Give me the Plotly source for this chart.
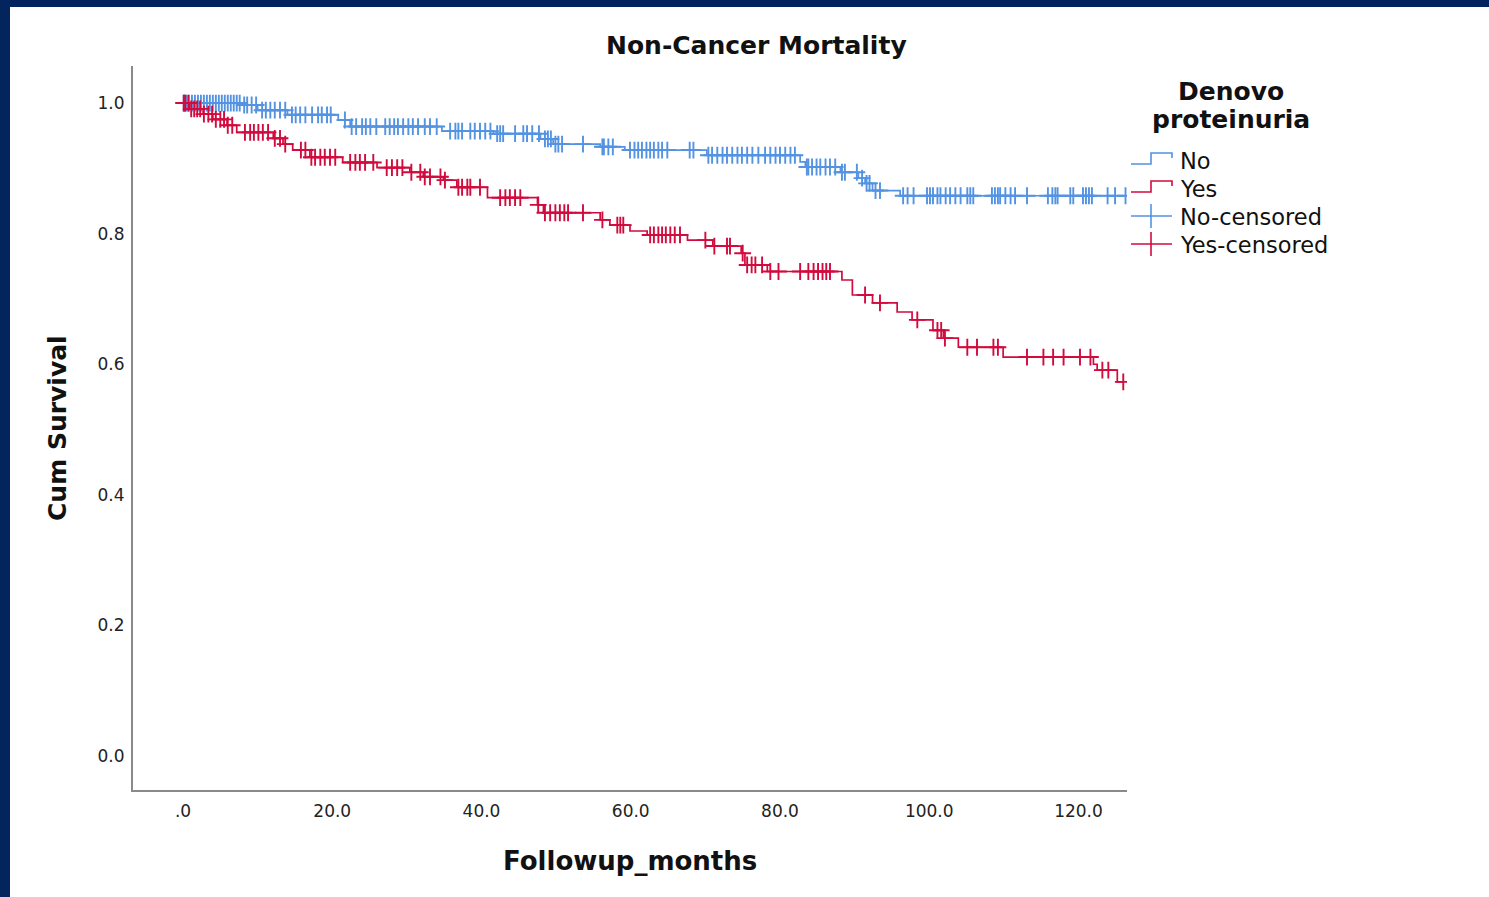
import numpy as np
import plotly.graph_objects as go

# ---------------- data ----------------
# Group "No": event times (months) and survival after each event
no_event_t = [8.0, 10.0, 14.0, 20.8, 22.4, 34.7, 41.6, 47.9, 49.6, 55.9, 59.2, 70.2,
              82.7, 83.4, 88.1, 90.5, 91.4, 92.4, 96.1]
no_event_s = [0.997, 0.989, 0.982, 0.974, 0.964, 0.957, 0.953, 0.945, 0.937, 0.933, 0.928, 0.920,
              0.910, 0.902, 0.894, 0.885, 0.877, 0.866, 0.858]
no_censor_t = [0.1, 0.2, 0.4, 0.8, 1.2, 1.6, 2.0, 2.4, 2.8, 3.2, 3.6, 4.0, 4.4, 4.8, 5.2, 5.6,
               6.0, 6.4, 6.8, 7.2, 7.6, 8.2, 8.6, 9.2, 9.8, 10.6, 11.1, 11.7, 12.3, 13.0, 13.7,
               14.6, 15.1, 15.7, 16.4, 17.3, 18.1, 18.6, 19.3, 19.8, 21.7, 22.6, 23.2, 24.0, 24.5,
               25.1, 25.9, 27.1, 27.7, 28.3, 28.8, 29.5, 30.2, 30.8, 31.5, 32.4, 33.1, 34.0,
               35.8, 36.5, 36.9, 37.4, 38.5, 39.1, 39.8, 40.5, 41.2, 42.1, 42.5, 42.9, 44.5,
               45.6, 46.1, 46.8, 47.7, 48.5, 48.9, 49.3, 49.9, 50.3, 50.8, 53.6, 56.2, 56.4,
               57.0, 57.6, 59.9, 60.5, 61.0, 61.5, 62.1, 62.6, 63.1, 63.7, 64.2, 64.9, 67.9,
               68.4, 70.4, 70.9, 71.6, 72.3, 72.9, 73.6, 74.3, 74.9, 75.6, 76.3, 77.1, 78.0,
               78.7, 79.4, 80.0, 80.7, 81.4, 82.0, 83.6, 83.8, 84.3, 84.9, 85.4, 86.1, 86.7,
               87.4, 88.3, 88.7, 90.3, 91.0, 91.6, 92.0, 92.8, 93.4, 96.5, 97.1, 97.9, 99.7,
               100.1, 100.5, 101.1, 101.5, 102.2, 102.8, 103.5, 104.2, 105.1, 105.5, 105.9,
               108.4, 108.8, 109.2, 109.5, 110.2, 110.9, 111.5, 113.1, 115.9, 116.5, 116.9,
               117.2, 118.9, 119.3, 120.6, 121.0, 121.4, 121.8, 123.9, 124.9, 126.3]

# Group "Yes"
yes_event_t = [0.9, 2.7, 4.0, 5.9, 7.2, 12.1, 13.4, 14.7, 17.0, 21.4, 26.0, 30.4, 32.2, 34.9,
               36.7, 40.8, 47.5, 48.3, 55.9, 57.2, 59.9, 62.2, 67.6, 71.0, 74.8, 75.3, 78.3,
               88.3, 89.7, 92.4, 95.7, 97.7, 100.5, 101.9, 103.9, 109.9, 122.0, 122.5, 125.2]
yes_event_s = [0.991, 0.983, 0.975, 0.966, 0.955, 0.946, 0.937, 0.928, 0.917, 0.909, 0.901,
               0.894, 0.887, 0.882, 0.871, 0.855, 0.844, 0.832, 0.821, 0.813, 0.804, 0.798,
               0.790, 0.781, 0.770, 0.752, 0.742, 0.729, 0.706, 0.694, 0.680, 0.668, 0.652,
               0.640, 0.626, 0.611, 0.600, 0.591, 0.573]
yes_censor_t = [0.1, 0.3, 0.7, 1.1, 1.5, 1.9, 2.3, 2.8, 3.4, 3.9, 4.4, 5.0, 5.5, 6.0, 6.6,
                8.3, 9.0, 9.5, 10.1, 10.7, 11.4, 12.3, 13.0, 13.7, 15.8, 16.4, 17.2, 17.7,
                18.4, 19.0, 19.7, 20.4, 22.4, 23.1, 23.7, 24.4, 25.5, 27.3, 28.0, 28.7, 29.4,
                30.6, 31.8, 32.4, 33.1, 34.5, 35.1, 36.9, 37.4, 38.1, 38.5, 39.8, 42.5, 43.2,
                43.8, 44.5, 45.2, 47.6, 48.5, 49.2, 49.9, 50.5, 51.1, 51.6, 53.6, 56.2, 58.2,
                58.6, 59.0, 62.6, 63.1, 63.7, 64.2, 64.7, 65.3, 65.9, 66.6, 70.0, 71.2, 72.9,
                73.3, 75.0, 75.6, 76.2, 76.7, 77.6, 78.7, 79.8, 82.7, 83.8, 84.5, 85.1, 85.7,
                86.2, 86.7, 91.4, 93.4, 98.4, 101.1, 101.6, 102.1, 105.1, 106.4, 108.6, 109.2,
                113.1, 115.3, 116.6, 118.0, 120.2, 121.6, 123.2, 124.0, 126.0]

x_tickvals = [0, 20, 40, 60, 80, 100, 120]
x_ticktext = [".0", "20.0", "40.0", "60.0", "80.0", "100.0", "120.0"]
y_tickvals = [0.0, 0.2, 0.4, 0.6, 0.8, 1.0]
y_ticktext = ["0.0", "0.2", "0.4", "0.6", "0.8", "1.0"]
groups = ["No", "Yes"]

# ---------------- style ----------------
BLUE = "#5393E2"
RED = "#D20B3E"
NAVY = "#03245C"
FONT = "DejaVu Sans"

W, H = 1489, 897
ML, MR, MT, MB = 133, 362, 66, 107
PW, PH = W - ML - MR, H - MT - MB


def pxx(x):
    return (x - ML) / PW


def pxy(y):
    return (H - MB - y) / PH


def km_curve(ev_t, ev_s, cens_t):
    end = max(max(cens_t), max(ev_t))
    xs = [0.0] + list(ev_t) + [end]
    ys = [1.0] + list(ev_s) + [ev_s[-1]]
    ev_t_arr = np.array(ev_t)
    ev_s_arr = np.array(ev_s)
    idx = np.searchsorted(ev_t_arr, np.array(cens_t), side="right") - 1
    cs = np.where(idx >= 0, ev_s_arr[np.clip(idx, 0, None)], 1.0)
    return xs, ys, cs


fig = go.Figure()
for name, ev_t, ev_s, ct, col in [
    ("No", no_event_t, no_event_s, no_censor_t, BLUE),
    ("Yes", yes_event_t, yes_event_s, yes_censor_t, RED),
]:
    xs, ys, cs = km_curve(ev_t, ev_s, ct)
    fig.add_trace(go.Scatter(x=xs, y=ys, mode="lines", line=dict(color=col, width=1.7, shape="hv"),
                             name=name, showlegend=False, hoverinfo="skip"))
    fig.add_trace(go.Scatter(x=ct, y=cs, mode="markers", name=name + "-censored", showlegend=False,
                             marker=dict(symbol="cross-thin", size=12, color=col,
                                         line=dict(color=col, width=1.9))))

shapes = []
# navy frame on top and left
shapes.append(dict(type="rect", xref="paper", yref="paper", x0=pxx(-5), x1=pxx(10), y0=pxy(905),
                   y1=pxy(-5), fillcolor=NAVY, line=dict(width=0), layer="above"))
shapes.append(dict(type="rect", xref="paper", yref="paper", x0=pxx(-5), x1=pxx(1495), y0=pxy(7),
                   y1=pxy(-5), fillcolor=NAVY, line=dict(width=0), layer="above"))

# manual legend
annotations = []
leg_rows = [("No", BLUE, "step", 161), ("Yes", RED, "step", 189),
            ("No-censored", BLUE, "cross", 217), ("Yes-censored", RED, "cross", 245)]
for label, col, kind, yc in leg_rows:
    if kind == "step":
        path = "M {} {} L {} {} L {} {} L {} {} L {} {}".format(
            pxx(1131), pxy(yc + 3), pxx(1151), pxy(yc + 3), pxx(1151), pxy(yc - 8),
            pxx(1172), pxy(yc - 8), pxx(1172), pxy(yc - 3))
        shapes.append(dict(type="path", xref="paper", yref="paper", path=path,
                           line=dict(color=col, width=1.6)))
    else:
        shapes.append(dict(type="line", xref="paper", yref="paper", x0=pxx(1131), x1=pxx(1172),
                           y0=pxy(yc - 1), y1=pxy(yc - 1), line=dict(color=col, width=1.6)))
        shapes.append(dict(type="line", xref="paper", yref="paper", x0=pxx(1151), x1=pxx(1151),
                           y0=pxy(yc - 13), y1=pxy(yc + 11), line=dict(color=col, width=1.6)))
    annotations.append(dict(text=label, xref="paper", yref="paper", x=pxx(1178), y=pxy(yc),
                            xanchor="left", yanchor="middle", showarrow=False,
                            font=dict(family=FONT, size=22.5, color="#111")))

annotations.append(dict(text="<b>Denovo</b>", xref="paper", yref="paper", x=pxx(1231), y=pxy(91),
                        xanchor="center", yanchor="middle", showarrow=False,
                        font=dict(family=FONT, size=25, color="#111")))
annotations.append(dict(text="<b>proteinuria</b>", xref="paper", yref="paper", x=pxx(1231),
                        y=pxy(120), xanchor="center", yanchor="middle", showarrow=False,
                        font=dict(family=FONT, size=25, color="#111")))
# title and axis titles
annotations.append(dict(text="<b>Non-Cancer Mortality</b>", xref="paper", yref="paper",
                        x=pxx(756), y=pxy(45), xanchor="center", yanchor="middle", showarrow=False,
                        font=dict(family=FONT, size=25, color="#111")))
annotations.append(dict(text="<b>Followup_months</b>", xref="paper", yref="paper",
                        x=pxx(630), y=pxy(861), xanchor="center", yanchor="middle", showarrow=False,
                        font=dict(family=FONT, size=26, color="#111")))
annotations.append(dict(text="<b>Cum Survival</b>", xref="paper", yref="paper",
                        x=pxx(57), y=pxy(428), xanchor="center", yanchor="middle", showarrow=False,
                        textangle=-90, font=dict(family=FONT, size=25, color="#111")))

fig.update_layout(
    width=W, height=H,
    margin=dict(l=ML, r=MR, t=MT, b=MB, pad=0),
    paper_bgcolor="white", plot_bgcolor="white",
    showlegend=False,
    shapes=shapes, annotations=annotations,
    xaxis=dict(range=[-6.7, 126.5], showline=True, linecolor="#8a8a8a", linewidth=2,
               showgrid=False, zeroline=False, tickvals=x_tickvals, ticktext=x_ticktext,
               ticks="outside", ticklen=5, tickcolor="rgba(0,0,0,0)",
               tickfont=dict(family=FONT, size=17, color="#222")),
    yaxis=dict(range=[-0.052, 1.0567], showline=True, linecolor="#8a8a8a", linewidth=2,
               showgrid=False, zeroline=False, tickvals=y_tickvals, ticktext=y_ticktext,
               ticks="outside", ticklen=3, tickcolor="rgba(0,0,0,0)",
               tickfont=dict(family=FONT, size=17, color="#222")),
)

fig.write_html("out.html", config={"displayModeBar": False},
               post_script="document.body.style.margin='0';document.body.style.overflow='hidden';")
